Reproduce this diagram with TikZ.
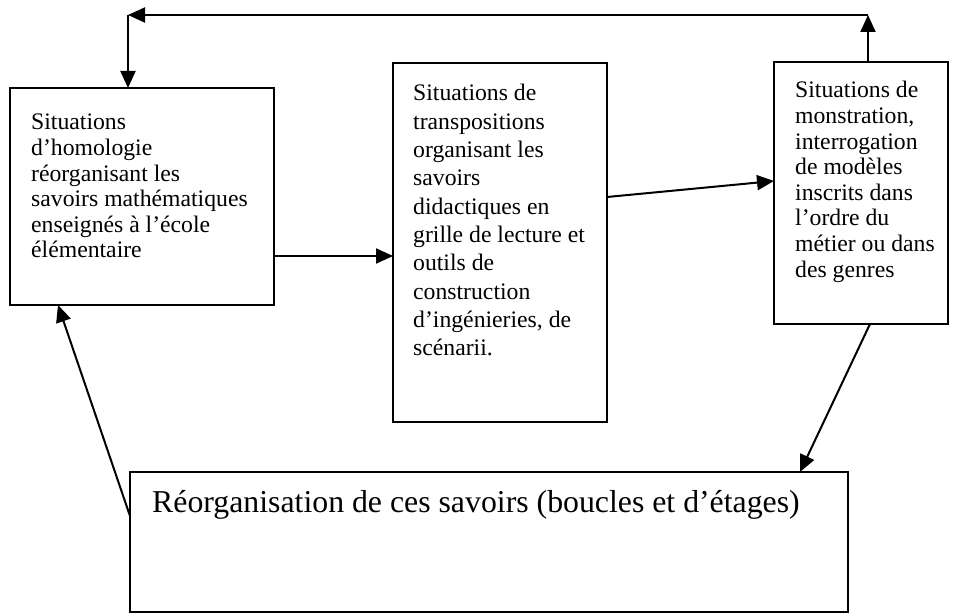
\documentclass[tikz,border=0pt]{standalone}
\usepackage{fontspec}
\setmainfont{Liberation Serif}
\usetikzlibrary{arrows.meta,calc}
\tikzset{
  boxnode/.style={draw=black, line width=2pt, rectangle, inner sep=0pt, outer sep=0pt, anchor=north west},
  txt/.style={inner sep=0pt, anchor=base west, font=\fontsize{23.7}{25.6}\selectfont},
  txtwide/.style={inner sep=0pt, anchor=base west, font=\fontsize{23.7}{28.3}\selectfont},
  bigtxt/.style={inner sep=0pt, anchor=base west, font=\fontsize{31.8}{36}\selectfont},
  arr/.style={line width=2pt, -{Triangle[length=17pt,width=15pt]}},
}
\begin{document}
\begin{tikzpicture}[x=1pt,y=-1pt]
\useasboundingbox (0,0) rectangle (956,615);
% boxes
\node[boxnode, minimum width=264pt, minimum height=217pt] (A) at (10,88) {};
\node[boxnode, minimum width=214pt, minimum height=359pt] (B) at (393,63) {};
\node[boxnode, minimum width=174pt, minimum height=262pt] (C) at (774,62) {};
\node[boxnode, minimum width=718pt, minimum height=140pt] (D) at (130,472) {};
% texts
\node[txt] (tA) at (31,130) {\parbox[t]{240pt}{\raggedright Situations\\ d’homologie\\ réorganisant les\\ savoirs mathématiques\\ enseignés à l’école\\ élémentaire}};
\node[txtwide] (tB) at (413,101) {\parbox[t]{190pt}{\raggedright Situations de\\ transpositions\\ organisant les\\ savoirs\\ didactiques en\\ grille de lecture et\\ outils de\\ construction\\ d’ingénieries, de\\ scénarii.}};
\node[txt] (tC) at (795,98) {\parbox[t]{150pt}{\raggedright Situations de\\ monstration,\\ interrogation\\ de modèles\\ inscrits dans\\ l’ordre du\\ métier ou dans\\ des genres}};
\node[bigtxt] (tD) at (152,512) {Réorganisation de ces savoirs (boucles et d’étages)};
% top loop
\coordinate (tr) at (868,15);
\coordinate (tl) at (128,15);
\draw[arr] (C.north -| tr) -- (tr);
\draw[arr] (tr) -- (tl);
\draw[arr] (tl) -- (A.north -| tl);
% main flow
\draw[arr] (A.east |- 0,256) -- (B.west |- 0,256);
\draw[arr] (B.east |- 0,197) -- (C.west |- 0,181);
\draw[arr] (C.south -| 870,0) -- (D.north -| 800,0);
\draw[arr] (D.west |- 0,516) -- (A.south -| 58,0);
\end{tikzpicture}
\end{document}
